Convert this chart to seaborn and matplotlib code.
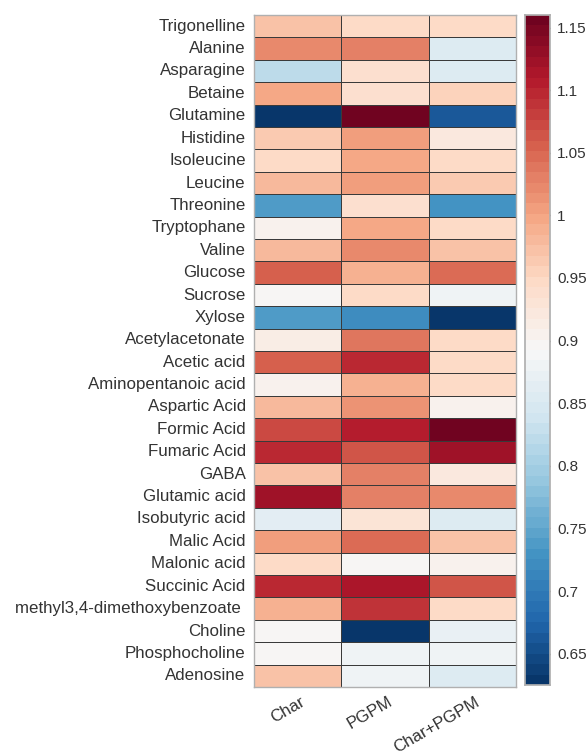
import numpy as np
import pandas as pd
import matplotlib
matplotlib.use("Agg")
import matplotlib.pyplot as plt
import matplotlib.transforms as mtransforms
import seaborn as sns
from matplotlib.colors import ListedColormap

metabolites = ["Trigonelline", "Alanine", "Asparagine", "Betaine", "Glutamine",
               "Histidine", "Isoleucine", "Leucine", "Threonine", "Tryptophane",
               "Valine", "Glucose", "Sucrose", "Xylose", "Acetylacetonate",
               "Acetic acid", "Aminopentanoic acid", "Aspartic Acid", "Formic Acid",
               "Fumaric Acid", "GABA", "Glutamic acid", "Isobutyric acid",
               "Malic Acid", "Malonic acid", "Succinic Acid",
               "methyl3,4-dimethoxybenzoate ", "Choline", "Phosphocholine", "Adenosine"]
treatments = ["Char", "PGPM", "Char+PGPM"]

char = [0.975, 1.020, 0.820, 0.998, 0.625, 0.960, 0.950, 0.978, 0.740, 0.905,
        0.978, 1.053, 0.893, 0.740, 0.910, 1.053, 0.905, 0.978, 1.075, 1.100,
        0.968, 1.120, 0.865, 1.005, 0.950, 1.100, 0.990, 0.893, 0.893, 0.972]
pgpm = [0.948, 1.030, 0.942, 0.942, 1.160, 1.005, 0.998, 1.005, 0.940, 0.998,
        1.020, 0.992, 0.950, 0.720, 1.040, 1.100, 0.990, 1.015, 1.108, 1.063,
        1.033, 1.032, 0.927, 1.045, 0.900, 1.113, 1.090, 0.625, 0.880, 0.880]
char_pgpm = [0.948, 0.852, 0.852, 0.958, 0.665, 0.925, 0.950, 0.960, 0.730, 0.943,
             0.968, 1.045, 0.880, 0.625, 0.950, 0.950, 0.943, 0.908, 1.155, 1.120,
             0.925, 1.020, 0.852, 0.968, 0.905, 1.065, 0.950, 0.875, 0.884, 0.852]

cbar_ticks = [0.65, 0.7, 0.75, 0.8, 0.85, 0.9, 0.95, 1.0, 1.05, 1.1, 1.15]
cbar_ticklabels = ["0.65", "0.7", "0.75", "0.8", "0.85", "0.9", "0.95", "1", "1.05", "1.1", "1.15"]

df = pd.DataFrame({treatments[0]: char, treatments[1]: pgpm, treatments[2]: char_pgpm},
                  index=metabolites)

sns.set_theme(style="white")
plt.rcParams["font.family"] = ["Liberation Sans", "DejaVu Sans"]

FS = 12.2
TXT = "#333333"

fig = plt.figure(figsize=(5.88, 7.54), dpi=100)
ax = fig.add_axes([254 / 588, 67 / 754, 262 / 588, 672 / 754])
cax = fig.add_axes([525 / 588, 69 / 754, 25 / 588, 670 / 754])

cmap = ListedColormap(sns.color_palette("RdBu_r", 64))

sns.heatmap(df, ax=ax, cbar_ax=cax, cmap=cmap, vmin=0.625, vmax=1.16,
            linewidths=0.6, linecolor="#3a3a3a")

ax.tick_params(axis="both", length=0, colors=TXT, labelsize=FS)
ax.set_yticklabels(metabolites, rotation=0, color=TXT, fontsize=FS)
ax.set_xticklabels(treatments, rotation=30, ha="right", color=TXT, fontsize=FS)
ax.tick_params(axis="x", pad=8)
ax.tick_params(axis="y", pad=6)
offset = mtransforms.ScaledTranslation(10 / 100, 4 / 100, fig.dpi_scale_trans)
for lbl in ax.get_xticklabels():
    lbl.set_transform(lbl.get_transform() + offset)
for s in ax.spines.values():
    s.set_visible(True)
    s.set_color("#b0b0b0")
    s.set_linewidth(1.0)

cax.set_yticks(cbar_ticks)
cax.set_yticklabels(cbar_ticklabels)
cax.tick_params(axis="y", direction="in", length=6, width=1, colors=TXT,
                labelsize=11, pad=5)
for s in cax.spines.values():
    s.set_visible(True)
    s.set_color("#b0b0b0")

fig.savefig("out.png", dpi=100)
